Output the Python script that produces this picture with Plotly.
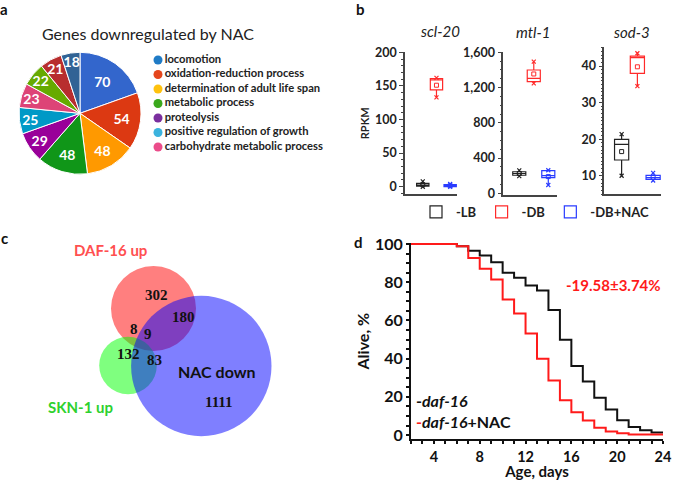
import plotly.graph_objects as go

W, H = 673, 480
FONT = "Lato"

# ---- panel a: GO terms of genes downregulated by NAC
slice_labels = ["locomotion", "oxidation-reduction process", "determination of adult life span",
                "metabolic process", "proteolysis", "positive regulation of growth",
                "carbohydrate metabolic process", "term 8", "term 9", "term 10"]
gene_counts = [70, 54, 48, 48, 29, 25, 23, 22, 21, 18]
slice_colors = ["#3366cc", "#dc3912", "#ff9900", "#109618", "#990099",
                "#0099c6", "#dd4477", "#66aa00", "#b82e2e", "#316395"]
legend_terms = slice_labels[:7]
legend_dot_colors = ["#1f7bc6", "#e5461c", "#ffc20e", "#3aa81c", "#7a2f9e", "#3bb3de", "#eb4c8a"]

# ---- panel b: RPKM box summaries (groups LB, DB, DB+NAC)
genes = ["scl-20", "mtl-1", "sod-3"]
groups = ["-LB", "-DB", "-DB+NAC"]
group_colors = ["#222222", "#ff2a2a", "#2a3cff"]
box_q1 = [[1, 144, 0], [205, 1267, 178], [14.3, 38.0, 9.0]]
box_median = [[2.5, 159, 1], [225, 1305, 200], [18.6, 42.3, 9.5]]
box_q3 = [[5, 161, 3], [245, 1399, 257], [19.95, 42.7, 10.1]]
box_low = [[0, 133, 0], [195, 1248, 94], [10.0, 34.5, 8.7]]
box_high = [[8, 162, 4], [260, 1494, 262], [21.4, 43.5, 10.8]]
box_mean = [[3, 151, 1.5], [225, 1354, 190], [16.6, 39.8, 9.5]]

# ---- panel c: Venn counts
venn_numbers = ["302", "180", "8", "9", "132", "83", "1111"]

# ---- panel d: survival
days = [2, 3, 4, 5, 6, 7, 8, 9, 10, 11, 12, 13, 14, 15, 16, 17, 18, 19, 20, 21, 22, 23, 24]
alive_daf16 = [100, 100, 100, 100, 98.8, 96.5, 93.9, 90.4, 84.9, 82.3, 78.3, 75.7, 65.5,
               49.9, 36.1, 28.1, 19.6, 13.4, 7.8, 4.3, 2.6, 1.4, 1.4]
alive_daf16_nac = [100, 100, 100, 100, 98.8, 92.7, 87.0, 81.4, 71.0, 63.6, 53.2, 39.9, 28.5,
                   18.2, 12.0, 7.6, 3.8, 1.9, 0.9, 0.3, 0.3, 0.3, 0.3]


def fx(p):
    return p / W


def fy(p):
    return 1 - p / H


fig = go.Figure()

# pie
fig.add_trace(go.Pie(
    labels=slice_labels, values=gene_counts, sort=False, direction="clockwise", rotation=0,
    marker=dict(colors=slice_colors, line=dict(color="white", width=1)),
    textinfo="value", textposition="inside", insidetextorientation="horizontal",
    textfont=dict(family=FONT, size=14, color="white", weight="bold"),
    domain=dict(x=[fx(19), fx(141)], y=[fy(174.3), fy(52.3)]),
    showlegend=False))

# pie legend drawn as a scatter on a hidden axis
fig.add_trace(go.Scatter(
    x=[0] * len(legend_terms), y=list(range(len(legend_terms))), mode="markers+text",
    text=legend_terms, textposition="middle right",
    marker=dict(color=legend_dot_colors, size=9),
    textfont=dict(family=FONT, size=11.2, color="#222", weight="bold"),
    xaxis="x5", yaxis="y5", showlegend=False, cliponaxis=False, hoverinfo="skip"))

# boxes
suffixes = ["", "2", "3"]
for gi, gene in enumerate(genes):
    sx = suffixes[gi]
    for k, grp in enumerate(groups):
        fig.add_trace(go.Box(
            x=[k], q1=[box_q1[gi][k]], median=[box_median[gi][k]], q3=[box_q3[gi][k]],
            lowerfence=[box_low[gi][k]], upperfence=[box_high[gi][k]],
            name=grp, legendgroup=grp, showlegend=(gi == 0),
            line=dict(color=group_colors[k], width=1.2), fillcolor="rgba(255,255,255,0)",
            width=0.9, whiskerwidth=0, boxpoints=False,
            xaxis="x" + sx, yaxis="y" + sx, hoverinfo="y"))
    fig.add_trace(go.Scatter(
        x=[0, 1, 2], y=box_mean[gi], mode="markers",
        marker=dict(symbol="square-open", size=4, color=group_colors, line=dict(width=1)),
        xaxis="x" + sx, yaxis="y" + sx, showlegend=False))
    fig.add_trace(go.Scatter(
        x=[0, 1, 2, 0, 1, 2], y=box_low[gi] + box_high[gi], mode="markers",
        marker=dict(symbol="x-thin-open", size=4, color=group_colors * 2,
                    line=dict(width=1.2, color=group_colors * 2)),
        xaxis="x" + sx, yaxis="y" + sx, showlegend=False))

# survival curves
fig.add_trace(go.Scatter(x=days, y=alive_daf16, mode="lines", line=dict(shape="hv", color="#111", width=2),
                         xaxis="x4", yaxis="y4", showlegend=False, name="daf-16"))
fig.add_trace(go.Scatter(x=days, y=alive_daf16_nac, mode="lines", line=dict(shape="hv", color="#ff1a1a", width=2),
                         xaxis="x4", yaxis="y4", showlegend=False, name="daf-16+NAC"))

bold_tick = dict(family=FONT, size=12.5, color="#222", weight="bold")
box_x = dict(showticklabels=False, ticks="", showline=True, linecolor="#444", linewidth=1.5,
             zeroline=False, showgrid=False, fixedrange=True, automargin=False)
box_y = dict(ticks="outside", ticklen=4, tickwidth=1.2, tickcolor="#444", showline=True,
             linecolor="#444", linewidth=1.5, zeroline=False, showgrid=False, tickfont=bold_tick,
             automargin=False)
d_tick = dict(family=FONT, size=16, color="#111", weight="bold")

fig.update_layout(
    width=W, height=H, margin=dict(l=0, r=0, t=0, b=0, autoexpand=False),
    paper_bgcolor="white", plot_bgcolor="white",
    font=dict(family=FONT, color="#222"),
    boxmode="overlay",
    uniformtext=dict(minsize=14, mode="show"),
    xaxis=dict(box_x, domain=[fx(405), fx(457)], range=[-1.3, 2.5], anchor="y"),
    yaxis=dict(box_y, domain=[fy(194.3), fy(52.3)], range=[-11.3, 200], tickvals=[0, 50, 100, 150, 200],
               minor=dict(dtick=10, ticklen=2, tickcolor="#444", ticks="outside"), anchor="x",
               title=dict(text="<b>RPKM</b>", font=dict(family=FONT, size=11), standoff=3)),
    xaxis2=dict(box_x, domain=[fx(503.3), fx(557)], range=[-1.1, 2.6], anchor="y2"),
    yaxis2=dict(box_y, domain=[fy(195), fy(52.3)], range=[-19, 1600], tickvals=[0, 400, 800, 1200, 1600],
                tickformat=",d", minor=dict(dtick=100, ticklen=2, tickcolor="#444", ticks="outside"), anchor="x2"),
    xaxis3=dict(box_x, domain=[fx(604.3), fx(661)], range=[-1.1, 2.5], anchor="y3"),
    yaxis3=dict(box_y, domain=[fy(194), fy(46.7)], range=[5, 45.3], tickvals=[10, 20, 30, 40],
                minor=dict(dtick=1, ticklen=2, tickcolor="#444", ticks="outside"), anchor="x3"),
    xaxis4=dict(domain=[fx(411), fx(663)], range=[2, 24], tickvals=[4, 8, 12, 16, 20, 24],
                ticks="outside", ticklen=3, tickwidth=1.5, tickcolor="#111", showline=True, linecolor="#111",
                linewidth=2, zeroline=False, showgrid=False, anchor="y4", automargin=False,
                minor=dict(dtick=1, ticklen=3, tickcolor="#111", ticks="outside"),
                tickfont=dict(d_tick, size=14.5),
                title=dict(text="<b>Age, days</b>", font=dict(family=FONT, size=15, color="#111"), standoff=6)),
    yaxis4=dict(domain=[fy(439.3), fy(243)], range=[-2.2, 100.5], tickvals=[0, 20, 40, 60, 80, 100],
                ticks="outside", ticklen=3, tickwidth=1.5, tickcolor="#111", showline=True, linecolor="#111",
                linewidth=2, zeroline=False, showgrid=False, anchor="x4", automargin=False,
                minor=dict(dtick=5, ticklen=3, tickcolor="#111", ticks="outside"),
                tickfont=d_tick,
                title=dict(text="<b>Alive, %</b>", font=dict(family=FONT, size=16, color="#111"), standoff=1)),
    xaxis5=dict(domain=[fx(152), fx(340)], range=[-6, 182], visible=False, fixedrange=True, automargin=False),
    yaxis5=dict(domain=[fy(154.25), fy(52.75)], range=[6.5, -0.5], visible=False, anchor="x5",
                fixedrange=True, automargin=False),
    legend=dict(orientation="h", x=fx(416), xanchor="left", y=fy(212), yanchor="middle",
                font=dict(family=FONT, size=13, color="#222", weight="bold"), bgcolor="rgba(0,0,0,0)"),
)

# Venn circles: (cx, cy, r, fill)
venn_circles = [(153.5, 308.5, 42.5, "rgba(255,0,0,0.5)"),
                (128.0, 365.5, 28.8, "rgba(0,255,0,0.5)"),
                (201.3, 366.0, 70.2, "rgba(0,0,255,0.5)")]
for cx, cy, r, col in venn_circles:
    fig.add_shape(type="circle", xref="paper", yref="paper",
                  x0=fx(cx - r), x1=fx(cx + r), y0=fy(cy + r), y1=fy(cy - r),
                  fillcolor=col, line=dict(width=0))

venn_pos = [(143.3, 295), (170, 327.3), (128.3, 339.3), (141.7, 344), (115, 364.3), (145, 370), (203.3, 411.7)]
for txt, (px, py) in zip(venn_numbers, venn_pos):
    fig.add_annotation(x=fx(px), y=fy(py), xref="paper", yref="paper", text="<b>%s</b>" % txt,
                       showarrow=False, font=dict(family="Liberation Serif", size=15, color="#111"))


def label(text, px, py, size, color="#222", family=FONT, xanchor="center"):
    fig.add_annotation(x=fx(px), y=fy(py), xref="paper", yref="paper", text=text, showarrow=False,
                       xanchor=xanchor, yanchor="middle", font=dict(family=family, size=size, color=color))


label("<b>NAC down</b>", 216.7, 371, 16, "#111")
label("<b>DAF-16 up</b>", 110, 250, 15, "#ff5050")
label("<b>SKN-1 up</b>", 80, 407, 15, "#2ed12e")

# titles and panel letters
label("Genes downregulated by NAC", 148, 34, 16, "#222")
label("<i>scl-20</i>", 440, 31, 15)
label("<i>mtl-1</i>", 533, 32, 15)
label("<i>sod-3</i>", 632, 32, 15)
label("<b>a</b>", 4, 9, 15, "#111")
label("<b>b</b>", 360, 9, 15, "#111")
label("<b>c</b>", 4, 238, 15, "#111")
label("<b>d</b>", 358, 242, 15, "#111")

# panel d labels
label("<b>-19.58±3.74%</b>", 613, 285, 15, "#ff1a1a")
label("<b>-<i>daf-16</i></b>", 414, 400, 16, "#111", xanchor="left")
label("<b><span style='color:#ff1a1a'>-</span><i>daf-16</i>+NAC</b>", 414, 421, 16, "#111", xanchor="left")

# the page body has a default margin; drop it so the figure fills the window exactly
fig.write_html("out.html", config={"displayModeBar": False},
               post_script="document.body.style.margin='0';document.body.style.overflow='hidden';")
